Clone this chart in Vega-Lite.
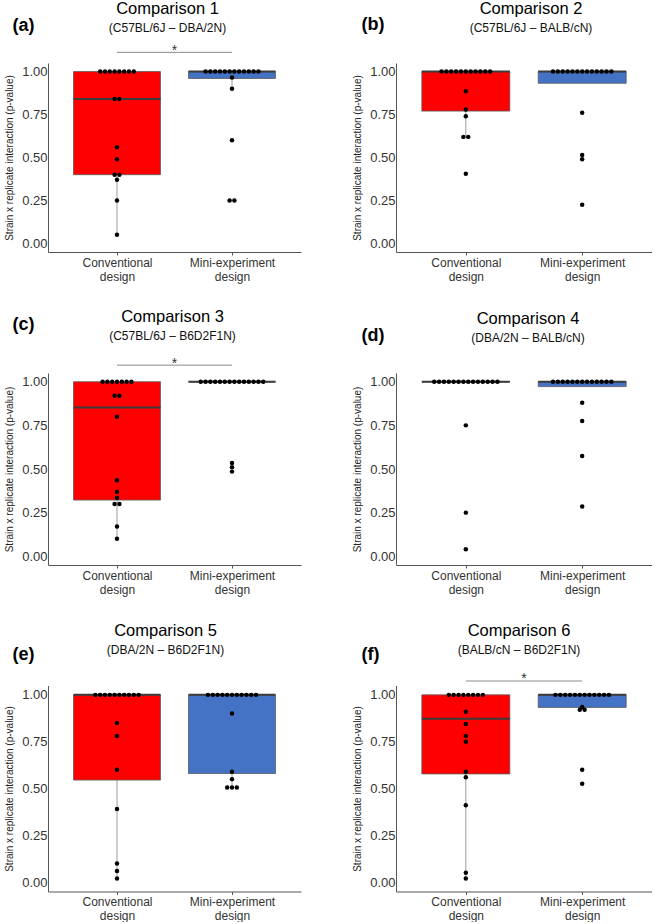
{
"$schema": "https://vega.github.io/schema/vega-lite/v6.json",
"background": "white",
"padding": {"left": 4, "top": 0, "right": 0, "bottom": 0},
"config": {
  "font": "Liberation Sans",
  "view": {"stroke": null},
  "axis": {"grid": false},
  "title": {"fontSize": 16.5, "fontWeight": "normal", "color": "#000", "subtitleFontSize": 12, "subtitleColor": "#111", "subtitlePadding": 5.5, "subtitleFont": "Liberation Sans"}
},
"datasets": {
"points": [
{"p":"a","d":"Conventional design","v":1},{"p":"a","d":"Conventional design","v":1},{"p":"a","d":"Conventional design","v":1},{"p":"a","d":"Conventional design","v":1},{"p":"a","d":"Conventional design","v":1},{"p":"a","d":"Conventional design","v":1},{"p":"a","d":"Conventional design","v":1},{"p":"a","d":"Conventional design","v":1},
{"p":"a","d":"Conventional design","v":0.84},{"p":"a","d":"Conventional design","v":0.84},{"p":"a","d":"Conventional design","v":0.56},{"p":"a","d":"Conventional design","v":0.49},{"p":"a","d":"Conventional design","v":0.40},{"p":"a","d":"Conventional design","v":0.40},{"p":"a","d":"Conventional design","v":0.37},{"p":"a","d":"Conventional design","v":0.25},{"p":"a","d":"Conventional design","v":0.05},
{"p":"a","d":"Mini-experiment design","v":1},{"p":"a","d":"Mini-experiment design","v":1},{"p":"a","d":"Mini-experiment design","v":1},{"p":"a","d":"Mini-experiment design","v":1},{"p":"a","d":"Mini-experiment design","v":1},{"p":"a","d":"Mini-experiment design","v":1},{"p":"a","d":"Mini-experiment design","v":1},{"p":"a","d":"Mini-experiment design","v":1},{"p":"a","d":"Mini-experiment design","v":1},{"p":"a","d":"Mini-experiment design","v":1},{"p":"a","d":"Mini-experiment design","v":1},{"p":"a","d":"Mini-experiment design","v":1},
{"p":"a","d":"Mini-experiment design","v":0.965},{"p":"a","d":"Mini-experiment design","v":0.90},{"p":"a","d":"Mini-experiment design","v":0.60},{"p":"a","d":"Mini-experiment design","v":0.25},{"p":"a","d":"Mini-experiment design","v":0.25},
{"p":"b","d":"Conventional design","v":1},{"p":"b","d":"Conventional design","v":1},{"p":"b","d":"Conventional design","v":1},{"p":"b","d":"Conventional design","v":1},{"p":"b","d":"Conventional design","v":1},{"p":"b","d":"Conventional design","v":1},{"p":"b","d":"Conventional design","v":1},{"p":"b","d":"Conventional design","v":1},{"p":"b","d":"Conventional design","v":1},{"p":"b","d":"Conventional design","v":1},{"p":"b","d":"Conventional design","v":1},
{"p":"b","d":"Conventional design","v":0.885},{"p":"b","d":"Conventional design","v":0.78},{"p":"b","d":"Conventional design","v":0.74},{"p":"b","d":"Conventional design","v":0.62},{"p":"b","d":"Conventional design","v":0.62},{"p":"b","d":"Conventional design","v":0.405},
{"p":"b","d":"Mini-experiment design","v":1},{"p":"b","d":"Mini-experiment design","v":1},{"p":"b","d":"Mini-experiment design","v":1},{"p":"b","d":"Mini-experiment design","v":1},{"p":"b","d":"Mini-experiment design","v":1},{"p":"b","d":"Mini-experiment design","v":1},{"p":"b","d":"Mini-experiment design","v":1},{"p":"b","d":"Mini-experiment design","v":1},{"p":"b","d":"Mini-experiment design","v":1},{"p":"b","d":"Mini-experiment design","v":1},{"p":"b","d":"Mini-experiment design","v":1},{"p":"b","d":"Mini-experiment design","v":1},{"p":"b","d":"Mini-experiment design","v":1},
{"p":"b","d":"Mini-experiment design","v":0.76},{"p":"b","d":"Mini-experiment design","v":0.515},{"p":"b","d":"Mini-experiment design","v":0.49},{"p":"b","d":"Mini-experiment design","v":0.225},
{"p":"c","d":"Conventional design","v":1},{"p":"c","d":"Conventional design","v":1},{"p":"c","d":"Conventional design","v":1},{"p":"c","d":"Conventional design","v":1},{"p":"c","d":"Conventional design","v":1},{"p":"c","d":"Conventional design","v":1},{"p":"c","d":"Conventional design","v":1},
{"p":"c","d":"Conventional design","v":0.92},{"p":"c","d":"Conventional design","v":0.92},{"p":"c","d":"Conventional design","v":0.80},{"p":"c","d":"Conventional design","v":0.435},{"p":"c","d":"Conventional design","v":0.37},{"p":"c","d":"Conventional design","v":0.335},{"p":"c","d":"Conventional design","v":0.30},{"p":"c","d":"Conventional design","v":0.30},{"p":"c","d":"Conventional design","v":0.17},{"p":"c","d":"Conventional design","v":0.10},
{"p":"c","d":"Mini-experiment design","v":1},{"p":"c","d":"Mini-experiment design","v":1},{"p":"c","d":"Mini-experiment design","v":1},{"p":"c","d":"Mini-experiment design","v":1},{"p":"c","d":"Mini-experiment design","v":1},{"p":"c","d":"Mini-experiment design","v":1},{"p":"c","d":"Mini-experiment design","v":1},{"p":"c","d":"Mini-experiment design","v":1},{"p":"c","d":"Mini-experiment design","v":1},{"p":"c","d":"Mini-experiment design","v":1},{"p":"c","d":"Mini-experiment design","v":1},{"p":"c","d":"Mini-experiment design","v":1},{"p":"c","d":"Mini-experiment design","v":1},{"p":"c","d":"Mini-experiment design","v":1},
{"p":"c","d":"Mini-experiment design","v":0.535},{"p":"c","d":"Mini-experiment design","v":0.51},{"p":"c","d":"Mini-experiment design","v":0.485},
{"p":"d","d":"Conventional design","v":1},{"p":"d","d":"Conventional design","v":1},{"p":"d","d":"Conventional design","v":1},{"p":"d","d":"Conventional design","v":1},{"p":"d","d":"Conventional design","v":1},{"p":"d","d":"Conventional design","v":1},{"p":"d","d":"Conventional design","v":1},{"p":"d","d":"Conventional design","v":1},{"p":"d","d":"Conventional design","v":1},{"p":"d","d":"Conventional design","v":1},{"p":"d","d":"Conventional design","v":1},{"p":"d","d":"Conventional design","v":1},{"p":"d","d":"Conventional design","v":1},{"p":"d","d":"Conventional design","v":1},
{"p":"d","d":"Conventional design","v":0.75},{"p":"d","d":"Conventional design","v":0.25},{"p":"d","d":"Conventional design","v":0.04},
{"p":"d","d":"Mini-experiment design","v":1},{"p":"d","d":"Mini-experiment design","v":1},{"p":"d","d":"Mini-experiment design","v":1},{"p":"d","d":"Mini-experiment design","v":1},{"p":"d","d":"Mini-experiment design","v":1},{"p":"d","d":"Mini-experiment design","v":1},{"p":"d","d":"Mini-experiment design","v":1},{"p":"d","d":"Mini-experiment design","v":1},{"p":"d","d":"Mini-experiment design","v":1},{"p":"d","d":"Mini-experiment design","v":1},{"p":"d","d":"Mini-experiment design","v":1},{"p":"d","d":"Mini-experiment design","v":1},{"p":"d","d":"Mini-experiment design","v":1},
{"p":"d","d":"Mini-experiment design","v":0.88},{"p":"d","d":"Mini-experiment design","v":0.775},{"p":"d","d":"Mini-experiment design","v":0.575},{"p":"d","d":"Mini-experiment design","v":0.285},
{"p":"e","d":"Conventional design","v":1},{"p":"e","d":"Conventional design","v":1},{"p":"e","d":"Conventional design","v":1},{"p":"e","d":"Conventional design","v":1},{"p":"e","d":"Conventional design","v":1},{"p":"e","d":"Conventional design","v":1},{"p":"e","d":"Conventional design","v":1},{"p":"e","d":"Conventional design","v":1},{"p":"e","d":"Conventional design","v":1},{"p":"e","d":"Conventional design","v":1},
{"p":"e","d":"Conventional design","v":0.85},{"p":"e","d":"Conventional design","v":0.78},{"p":"e","d":"Conventional design","v":0.60},{"p":"e","d":"Conventional design","v":0.39},{"p":"e","d":"Conventional design","v":0.10},{"p":"e","d":"Conventional design","v":0.06},{"p":"e","d":"Conventional design","v":0.02},
{"p":"e","d":"Mini-experiment design","v":1},{"p":"e","d":"Mini-experiment design","v":1},{"p":"e","d":"Mini-experiment design","v":1},{"p":"e","d":"Mini-experiment design","v":1},{"p":"e","d":"Mini-experiment design","v":1},{"p":"e","d":"Mini-experiment design","v":1},{"p":"e","d":"Mini-experiment design","v":1},{"p":"e","d":"Mini-experiment design","v":1},{"p":"e","d":"Mini-experiment design","v":1},{"p":"e","d":"Mini-experiment design","v":1},{"p":"e","d":"Mini-experiment design","v":1},
{"p":"e","d":"Mini-experiment design","v":0.90},{"p":"e","d":"Mini-experiment design","v":0.59},{"p":"e","d":"Mini-experiment design","v":0.55},{"p":"e","d":"Mini-experiment design","v":0.505},{"p":"e","d":"Mini-experiment design","v":0.505},{"p":"e","d":"Mini-experiment design","v":0.505},
{"p":"f","d":"Conventional design","v":1},{"p":"f","d":"Conventional design","v":1},{"p":"f","d":"Conventional design","v":1},{"p":"f","d":"Conventional design","v":1},{"p":"f","d":"Conventional design","v":1},{"p":"f","d":"Conventional design","v":1},{"p":"f","d":"Conventional design","v":1},{"p":"f","d":"Conventional design","v":1},
{"p":"f","d":"Conventional design","v":0.91},{"p":"f","d":"Conventional design","v":0.845},{"p":"f","d":"Conventional design","v":0.78},{"p":"f","d":"Conventional design","v":0.75},{"p":"f","d":"Conventional design","v":0.59},{"p":"f","d":"Conventional design","v":0.56},{"p":"f","d":"Conventional design","v":0.41},{"p":"f","d":"Conventional design","v":0.05},{"p":"f","d":"Conventional design","v":0.02},
{"p":"f","d":"Mini-experiment design","v":1},{"p":"f","d":"Mini-experiment design","v":1},{"p":"f","d":"Mini-experiment design","v":1},{"p":"f","d":"Mini-experiment design","v":1},{"p":"f","d":"Mini-experiment design","v":1},{"p":"f","d":"Mini-experiment design","v":1},{"p":"f","d":"Mini-experiment design","v":1},{"p":"f","d":"Mini-experiment design","v":1},{"p":"f","d":"Mini-experiment design","v":1},{"p":"f","d":"Mini-experiment design","v":1},{"p":"f","d":"Mini-experiment design","v":1},{"p":"f","d":"Mini-experiment design","v":1},
{"p":"f","d":"Mini-experiment design","v":0.935},{"p":"f","d":"Mini-experiment design","v":0.92},{"p":"f","d":"Mini-experiment design","v":0.92},{"p":"f","d":"Mini-experiment design","v":0.60},{"p":"f","d":"Mini-experiment design","v":0.525}
],
"boxes": [
{"p":"a","d":"Conventional design","lo":0.05,"q1":0.40,"med":0.84,"q3":1},
{"p":"a","d":"Mini-experiment design","lo":0.90,"q1":0.96,"med":1,"q3":1},
{"p":"b","d":"Conventional design","lo":0.62,"q1":0.77,"med":1,"q3":1},
{"p":"b","d":"Mini-experiment design","lo":0.932,"q1":0.932,"med":1,"q3":1},
{"p":"c","d":"Conventional design","lo":0.10,"q1":0.322,"med":0.852,"q3":1},
{"p":"c","d":"Mini-experiment design","lo":1,"q1":1,"med":1,"q3":1},
{"p":"d","d":"Conventional design","lo":1,"q1":1,"med":1,"q3":1},
{"p":"d","d":"Mini-experiment design","lo":0.972,"q1":0.972,"med":1,"q3":1},
{"p":"e","d":"Conventional design","lo":0.02,"q1":0.545,"med":1,"q3":1},
{"p":"e","d":"Mini-experiment design","lo":0.505,"q1":0.58,"med":1,"q3":1},
{"p":"f","d":"Conventional design","lo":0.02,"q1":0.578,"med":0.872,"q3":1},
{"p":"f","d":"Mini-experiment design","lo":0.92,"q1":0.933,"med":1,"q3":1}
],
"sig": [
{"p":"a","y":1.112,"ty":1.095},
{"p":"c","y":1.095,"ty":1.079},
{"p":"f","y":1.074,"ty":1.062}
]
},
"spacing": 27,
"vconcat": [
{"spacing": 51, "hconcat": [
{
 "width": 253, "height": 189,
 "title": {"text": "Comparison 1", "subtitle": "(C57BL/6J – DBA/2N)", "frame": "group", "anchor": "middle", "dx": -7, "offset": -18},
 "resolve": {"axis": {"x": "independent"}},
 "layer": [
  {"data": {"name": "boxes"}, "transform": [{"filter": "datum.p == 'a'"}, {"calculate": "datum.d == 'Conventional design' ? 1 : 2", "as": "i"}],
   "mark": {"type": "rule", "color": "#9e9e9e", "strokeWidth": 1},
   "encoding": {"x": {"field": "i", "type": "quantitative", "scale": {"domain": [0.4, 2.6], "nice": false, "zero": false}, "axis": {"orient": "bottom", "title": null, "values": [1, 2], "labelExpr": "datum.value == 1 ? ['Conventional', 'design'] : ['Mini-experiment', 'design']", "labelFontSize": 12, "labelColor": "#333", "labelLineHeight": 14, "tickSize": 3, "tickColor": "#555", "domainColor": "#555", "labelPadding": 2, "labelFlush": false, "labelOverlap": false}},
     "y": {"field": "lo", "type": "quantitative", "scale": {"domain": [-0.05, 1.05], "nice": false, "zero": false}, "axis": {"title": "Strain x replicate interaction (p-value)", "values": [0, 0.25, 0.5, 0.75, 1], "format": ".2f", "ticks": false, "labelPadding": 1, "labelFontSize": 13, "labelColor": "#333", "domainColor": "#555", "titleFontSize": 10, "titleFontWeight": "normal", "titleColor": "#222", "titlePadding": 4, "minExtent": 30, "maxExtent": 30}},
     "y2": {"field": "q1"}}},
  {"data": {"name": "boxes"}, "transform": [{"filter": "datum.p == 'a'"}, {"calculate": "(datum.d == 'Conventional design' ? 1 : 2) - 0.378", "as": "x1"}, {"calculate": "datum.x1 + 0.756", "as": "x2"}],
   "mark": {"type": "bar", "stroke": "#5a5a5a", "strokeWidth": 0.8},
   "encoding": {"x": {"field": "x1", "type": "quantitative", "axis": {"orient": "top", "title": "(a)", "values": [], "labels": false, "ticks": false, "domain": false, "titleX": -36, "titleY": -33, "titleAlign": "left", "titleBaseline": "alphabetic", "titleAngle": 0, "titleFontSize": 18, "titleFontWeight": "bold", "titleColor": "#000"}}, "x2": {"field": "x2"},
     "y": {"field": "q1", "type": "quantitative"}, "y2": {"field": "q3"},
     "fill": {"field": "d", "type": "nominal", "legend": null, "scale": {"domain": ["Conventional design", "Mini-experiment design"], "range": ["#FF0000", "#4472C4"]}}}},
  {"data": {"name": "boxes"}, "transform": [{"filter": "datum.p == 'a'"}, {"calculate": "(datum.d == 'Conventional design' ? 1 : 2) - 0.378", "as": "x1"}, {"calculate": "datum.x1 + 0.756", "as": "x2"}],
   "mark": {"type": "bar", "fillOpacity": 0, "stroke": "#3b3b3b", "strokeWidth": 2},
   "encoding": {"x": {"field": "x1", "type": "quantitative", "axis": null}, "x2": {"field": "x2"}, "y": {"field": "med", "type": "quantitative"}, "y2": {"field": "med"}}},
  {"data": {"name": "points"}, "transform": [{"filter": "datum.p == 'a'"}, {"window": [{"op": "row_number", "as": "k"}, {"op": "count", "as": "n"}], "groupby": ["d", "v"], "frame": [null, null]}, {"calculate": "(datum.d == 'Conventional design' ? 1 : 2) + 0.0418 * (datum.k - (datum.n + 1) / 2)", "as": "x"}],
   "mark": {"type": "circle", "size": 20, "opacity": 1, "color": "#000"},
   "encoding": {"x": {"field": "x", "type": "quantitative", "axis": null}, "y": {"field": "v", "type": "quantitative"}}},
  {"data": {"name": "sig"}, "transform": [{"filter": "datum.p == 'a'"}],
   "mark": {"type": "rule", "color": "#8a8a8a", "strokeWidth": 1},
   "encoding": {"x": {"datum": 1, "type": "quantitative", "axis": null}, "x2": {"datum": 2}, "y": {"field": "y", "type": "quantitative"}}},
  {"data": {"name": "sig"}, "transform": [{"filter": "datum.p == 'a'"}],
   "mark": {"type": "text", "text": "*", "fontSize": 14, "baseline": "alphabetic", "align": "center", "color": "#333"},
   "encoding": {"x": {"datum": 1.5, "type": "quantitative", "axis": null}, "y": {"field": "ty", "type": "quantitative"}}}
 ]
},
{
 "width": 256, "height": 189,
 "title": {"text": "Comparison 2", "subtitle": "(C57BL/6J – BALB/cN)", "frame": "group", "anchor": "middle", "dx": 7, "offset": -18.5},
 "resolve": {"axis": {"x": "independent"}},
 "layer": [
  {"data": {"name": "boxes"}, "transform": [{"filter": "datum.p == 'b'"}, {"calculate": "datum.d == 'Conventional design' ? 1 : 2", "as": "i"}],
   "mark": {"type": "rule", "color": "#9e9e9e", "strokeWidth": 1},
   "encoding": {"x": {"field": "i", "type": "quantitative", "scale": {"domain": [0.4, 2.6], "nice": false, "zero": false}, "axis": {"orient": "bottom", "title": null, "values": [1, 2], "labelExpr": "datum.value == 1 ? ['Conventional', 'design'] : ['Mini-experiment', 'design']", "labelFontSize": 12, "labelColor": "#333", "labelLineHeight": 14, "tickSize": 3, "tickColor": "#555", "domainColor": "#555", "labelPadding": 2, "labelFlush": false, "labelOverlap": false}},
     "y": {"field": "lo", "type": "quantitative", "scale": {"domain": [-0.05, 1.05], "nice": false, "zero": false}, "axis": {"title": "Strain x replicate interaction (p-value)", "values": [0, 0.25, 0.5, 0.75, 1], "format": ".2f", "ticks": false, "labelPadding": 1, "labelFontSize": 13, "labelColor": "#333", "domainColor": "#555", "titleFontSize": 10, "titleFontWeight": "normal", "titleColor": "#222", "titlePadding": 4, "minExtent": 30, "maxExtent": 30}},
     "y2": {"field": "q1"}}},
  {"data": {"name": "boxes"}, "transform": [{"filter": "datum.p == 'b'"}, {"calculate": "(datum.d == 'Conventional design' ? 1 : 2) - 0.378", "as": "x1"}, {"calculate": "datum.x1 + 0.756", "as": "x2"}],
   "mark": {"type": "bar", "stroke": "#5a5a5a", "strokeWidth": 0.8},
   "encoding": {"x": {"field": "x1", "type": "quantitative", "axis": {"orient": "top", "title": "(b)", "values": [], "labels": false, "ticks": false, "domain": false, "titleX": -35, "titleY": -34, "titleAlign": "left", "titleBaseline": "alphabetic", "titleAngle": 0, "titleFontSize": 18, "titleFontWeight": "bold", "titleColor": "#000"}}, "x2": {"field": "x2"},
     "y": {"field": "q1", "type": "quantitative"}, "y2": {"field": "q3"},
     "fill": {"field": "d", "type": "nominal", "legend": null, "scale": {"domain": ["Conventional design", "Mini-experiment design"], "range": ["#FF0000", "#4472C4"]}}}},
  {"data": {"name": "boxes"}, "transform": [{"filter": "datum.p == 'b'"}, {"calculate": "(datum.d == 'Conventional design' ? 1 : 2) - 0.378", "as": "x1"}, {"calculate": "datum.x1 + 0.756", "as": "x2"}],
   "mark": {"type": "bar", "fillOpacity": 0, "stroke": "#3b3b3b", "strokeWidth": 2},
   "encoding": {"x": {"field": "x1", "type": "quantitative", "axis": null}, "x2": {"field": "x2"}, "y": {"field": "med", "type": "quantitative"}, "y2": {"field": "med"}}},
  {"data": {"name": "points"}, "transform": [{"filter": "datum.p == 'b'"}, {"window": [{"op": "row_number", "as": "k"}, {"op": "count", "as": "n"}], "groupby": ["d", "v"], "frame": [null, null]}, {"calculate": "(datum.d == 'Conventional design' ? 1 : 2) + 0.0418 * (datum.k - (datum.n + 1) / 2)", "as": "x"}],
   "mark": {"type": "circle", "size": 20, "opacity": 1, "color": "#000"},
   "encoding": {"x": {"field": "x", "type": "quantitative", "axis": null}, "y": {"field": "v", "type": "quantitative"}}}
 ]
}
]},
{"spacing": 27.5, "vconcat": [
{"spacing": 51, "hconcat": [
{
 "width": 253, "height": 192,
 "title": {"text": "Comparison 3", "subtitle": "(C57BL/6J – B6D2F1N)", "frame": "group", "anchor": "middle", "dx": -2, "offset": -27},
 "resolve": {"axis": {"x": "independent"}},
 "layer": [
  {"data": {"name": "boxes"}, "transform": [{"filter": "datum.p == 'c'"}, {"calculate": "datum.d == 'Conventional design' ? 1 : 2", "as": "i"}],
   "mark": {"type": "rule", "color": "#9e9e9e", "strokeWidth": 1},
   "encoding": {"x": {"field": "i", "type": "quantitative", "scale": {"domain": [0.4, 2.6], "nice": false, "zero": false}, "axis": {"orient": "bottom", "title": null, "values": [1, 2], "labelExpr": "datum.value == 1 ? ['Conventional', 'design'] : ['Mini-experiment', 'design']", "labelFontSize": 12, "labelColor": "#333", "labelLineHeight": 14, "tickSize": 3, "tickColor": "#555", "domainColor": "#555", "labelPadding": 2, "labelFlush": false, "labelOverlap": false}},
     "y": {"field": "lo", "type": "quantitative", "scale": {"domain": [-0.05, 1.05], "nice": false, "zero": false}, "axis": {"title": "Strain x replicate interaction (p-value)", "values": [0, 0.25, 0.5, 0.75, 1], "format": ".2f", "ticks": false, "labelPadding": 1, "labelFontSize": 13, "labelColor": "#333", "domainColor": "#555", "titleFontSize": 10, "titleFontWeight": "normal", "titleColor": "#222", "titlePadding": 4, "minExtent": 30, "maxExtent": 30}},
     "y2": {"field": "q1"}}},
  {"data": {"name": "boxes"}, "transform": [{"filter": "datum.p == 'c'"}, {"calculate": "(datum.d == 'Conventional design' ? 1 : 2) - 0.378", "as": "x1"}, {"calculate": "datum.x1 + 0.756", "as": "x2"}],
   "mark": {"type": "bar", "stroke": "#5a5a5a", "strokeWidth": 0.8},
   "encoding": {"x": {"field": "x1", "type": "quantitative", "axis": {"orient": "top", "title": "(c)", "values": [], "labels": false, "ticks": false, "domain": false, "titleX": -36, "titleY": -44, "titleAlign": "left", "titleBaseline": "alphabetic", "titleAngle": 0, "titleFontSize": 18, "titleFontWeight": "bold", "titleColor": "#000"}}, "x2": {"field": "x2"},
     "y": {"field": "q1", "type": "quantitative"}, "y2": {"field": "q3"},
     "fill": {"field": "d", "type": "nominal", "legend": null, "scale": {"domain": ["Conventional design", "Mini-experiment design"], "range": ["#FF0000", "#4472C4"]}}}},
  {"data": {"name": "boxes"}, "transform": [{"filter": "datum.p == 'c'"}, {"calculate": "(datum.d == 'Conventional design' ? 1 : 2) - 0.378", "as": "x1"}, {"calculate": "datum.x1 + 0.756", "as": "x2"}],
   "mark": {"type": "bar", "fillOpacity": 0, "stroke": "#3b3b3b", "strokeWidth": 2},
   "encoding": {"x": {"field": "x1", "type": "quantitative", "axis": null}, "x2": {"field": "x2"}, "y": {"field": "med", "type": "quantitative"}, "y2": {"field": "med"}}},
  {"data": {"name": "points"}, "transform": [{"filter": "datum.p == 'c'"}, {"window": [{"op": "row_number", "as": "k"}, {"op": "count", "as": "n"}], "groupby": ["d", "v"], "frame": [null, null]}, {"calculate": "(datum.d == 'Conventional design' ? 1 : 2) + 0.0418 * (datum.k - (datum.n + 1) / 2)", "as": "x"}],
   "mark": {"type": "circle", "size": 20, "opacity": 1, "color": "#000"},
   "encoding": {"x": {"field": "x", "type": "quantitative", "axis": null}, "y": {"field": "v", "type": "quantitative"}}},
  {"data": {"name": "sig"}, "transform": [{"filter": "datum.p == 'c'"}],
   "mark": {"type": "rule", "color": "#8a8a8a", "strokeWidth": 1},
   "encoding": {"x": {"datum": 1, "type": "quantitative", "axis": null}, "x2": {"datum": 2}, "y": {"field": "y", "type": "quantitative"}}},
  {"data": {"name": "sig"}, "transform": [{"filter": "datum.p == 'c'"}],
   "mark": {"type": "text", "text": "*", "fontSize": 14, "baseline": "alphabetic", "align": "center", "color": "#333"},
   "encoding": {"x": {"datum": 1.5, "type": "quantitative", "axis": null}, "y": {"field": "ty", "type": "quantitative"}}}
 ]
},
{
 "width": 256, "height": 192,
 "title": {"text": "Comparison 4", "subtitle": "(DBA/2N – BALB/cN)", "frame": "group", "anchor": "middle", "dx": 4, "offset": -18.3},
 "resolve": {"axis": {"x": "independent"}},
 "layer": [
  {"data": {"name": "boxes"}, "transform": [{"filter": "datum.p == 'd'"}, {"calculate": "datum.d == 'Conventional design' ? 1 : 2", "as": "i"}],
   "mark": {"type": "rule", "color": "#9e9e9e", "strokeWidth": 1},
   "encoding": {"x": {"field": "i", "type": "quantitative", "scale": {"domain": [0.4, 2.6], "nice": false, "zero": false}, "axis": {"orient": "bottom", "title": null, "values": [1, 2], "labelExpr": "datum.value == 1 ? ['Conventional', 'design'] : ['Mini-experiment', 'design']", "labelFontSize": 12, "labelColor": "#333", "labelLineHeight": 14, "tickSize": 3, "tickColor": "#555", "domainColor": "#555", "labelPadding": 2, "labelFlush": false, "labelOverlap": false}},
     "y": {"field": "lo", "type": "quantitative", "scale": {"domain": [-0.05, 1.05], "nice": false, "zero": false}, "axis": {"title": "Strain x replicate interaction (p-value)", "values": [0, 0.25, 0.5, 0.75, 1], "format": ".2f", "ticks": false, "labelPadding": 1, "labelFontSize": 13, "labelColor": "#333", "domainColor": "#555", "titleFontSize": 10, "titleFontWeight": "normal", "titleColor": "#222", "titlePadding": 4, "minExtent": 30, "maxExtent": 30}},
     "y2": {"field": "q1"}}},
  {"data": {"name": "boxes"}, "transform": [{"filter": "datum.p == 'd'"}, {"calculate": "(datum.d == 'Conventional design' ? 1 : 2) - 0.378", "as": "x1"}, {"calculate": "datum.x1 + 0.756", "as": "x2"}],
   "mark": {"type": "bar", "stroke": "#5a5a5a", "strokeWidth": 0.8},
   "encoding": {"x": {"field": "x1", "type": "quantitative", "axis": {"orient": "top", "title": "(d)", "values": [], "labels": false, "ticks": false, "domain": false, "titleX": -35, "titleY": -33, "titleAlign": "left", "titleBaseline": "alphabetic", "titleAngle": 0, "titleFontSize": 18, "titleFontWeight": "bold", "titleColor": "#000"}}, "x2": {"field": "x2"},
     "y": {"field": "q1", "type": "quantitative"}, "y2": {"field": "q3"},
     "fill": {"field": "d", "type": "nominal", "legend": null, "scale": {"domain": ["Conventional design", "Mini-experiment design"], "range": ["#FF0000", "#4472C4"]}}}},
  {"data": {"name": "boxes"}, "transform": [{"filter": "datum.p == 'd'"}, {"calculate": "(datum.d == 'Conventional design' ? 1 : 2) - 0.378", "as": "x1"}, {"calculate": "datum.x1 + 0.756", "as": "x2"}],
   "mark": {"type": "bar", "fillOpacity": 0, "stroke": "#3b3b3b", "strokeWidth": 2},
   "encoding": {"x": {"field": "x1", "type": "quantitative", "axis": null}, "x2": {"field": "x2"}, "y": {"field": "med", "type": "quantitative"}, "y2": {"field": "med"}}},
  {"data": {"name": "points"}, "transform": [{"filter": "datum.p == 'd'"}, {"window": [{"op": "row_number", "as": "k"}, {"op": "count", "as": "n"}], "groupby": ["d", "v"], "frame": [null, null]}, {"calculate": "(datum.d == 'Conventional design' ? 1 : 2) + 0.0418 * (datum.k - (datum.n + 1) / 2)", "as": "x"}],
   "mark": {"type": "circle", "size": 20, "opacity": 1, "color": "#000"},
   "encoding": {"x": {"field": "x", "type": "quantitative", "axis": null}, "y": {"field": "v", "type": "quantitative"}}}
 ]
}
]},
{"spacing": 51, "hconcat": [
{
 "width": 253, "height": 206,
 "title": {"text": "Comparison 5", "subtitle": "(DBA/2N – B6D2F1N)", "frame": "group", "anchor": "middle", "dx": -9, "offset": -10.6},
 "resolve": {"axis": {"x": "independent"}},
 "layer": [
  {"data": {"name": "boxes"}, "transform": [{"filter": "datum.p == 'e'"}, {"calculate": "datum.d == 'Conventional design' ? 1 : 2", "as": "i"}],
   "mark": {"type": "rule", "color": "#9e9e9e", "strokeWidth": 1},
   "encoding": {"x": {"field": "i", "type": "quantitative", "scale": {"domain": [0.4, 2.6], "nice": false, "zero": false}, "axis": {"orient": "bottom", "title": null, "values": [1, 2], "labelExpr": "datum.value == 1 ? ['Conventional', 'design'] : ['Mini-experiment', 'design']", "labelFontSize": 12, "labelColor": "#333", "labelLineHeight": 14, "tickSize": 3, "tickColor": "#555", "domainColor": "#555", "labelPadding": 2, "labelFlush": false, "labelOverlap": false}},
     "y": {"field": "lo", "type": "quantitative", "scale": {"domain": [-0.05, 1.05], "nice": false, "zero": false}, "axis": {"title": "Strain x replicate interaction (p-value)", "values": [0, 0.25, 0.5, 0.75, 1], "format": ".2f", "ticks": false, "labelPadding": 1, "labelFontSize": 13, "labelColor": "#333", "domainColor": "#555", "titleFontSize": 10, "titleFontWeight": "normal", "titleColor": "#222", "titlePadding": 4, "minExtent": 30, "maxExtent": 30}},
     "y2": {"field": "q1"}}},
  {"data": {"name": "boxes"}, "transform": [{"filter": "datum.p == 'e'"}, {"calculate": "(datum.d == 'Conventional design' ? 1 : 2) - 0.378", "as": "x1"}, {"calculate": "datum.x1 + 0.756", "as": "x2"}],
   "mark": {"type": "bar", "stroke": "#5a5a5a", "strokeWidth": 0.8},
   "encoding": {"x": {"field": "x1", "type": "quantitative", "axis": {"orient": "top", "title": "(e)", "values": [], "labels": false, "ticks": false, "domain": false, "titleX": -36, "titleY": -26, "titleAlign": "left", "titleBaseline": "alphabetic", "titleAngle": 0, "titleFontSize": 18, "titleFontWeight": "bold", "titleColor": "#000"}}, "x2": {"field": "x2"},
     "y": {"field": "q1", "type": "quantitative"}, "y2": {"field": "q3"},
     "fill": {"field": "d", "type": "nominal", "legend": null, "scale": {"domain": ["Conventional design", "Mini-experiment design"], "range": ["#FF0000", "#4472C4"]}}}},
  {"data": {"name": "boxes"}, "transform": [{"filter": "datum.p == 'e'"}, {"calculate": "(datum.d == 'Conventional design' ? 1 : 2) - 0.378", "as": "x1"}, {"calculate": "datum.x1 + 0.756", "as": "x2"}],
   "mark": {"type": "bar", "fillOpacity": 0, "stroke": "#3b3b3b", "strokeWidth": 2},
   "encoding": {"x": {"field": "x1", "type": "quantitative", "axis": null}, "x2": {"field": "x2"}, "y": {"field": "med", "type": "quantitative"}, "y2": {"field": "med"}}},
  {"data": {"name": "points"}, "transform": [{"filter": "datum.p == 'e'"}, {"window": [{"op": "row_number", "as": "k"}, {"op": "count", "as": "n"}], "groupby": ["d", "v"], "frame": [null, null]}, {"calculate": "(datum.d == 'Conventional design' ? 1 : 2) + 0.0418 * (datum.k - (datum.n + 1) / 2)", "as": "x"}],
   "mark": {"type": "circle", "size": 20, "opacity": 1, "color": "#000"},
   "encoding": {"x": {"field": "x", "type": "quantitative", "axis": null}, "y": {"field": "v", "type": "quantitative"}}}
 ]
},
{
 "width": 256, "height": 206,
 "title": {"text": "Comparison 6", "subtitle": "(BALB/cN – B6D2F1N)", "frame": "group", "anchor": "middle", "dx": -5, "offset": -10.5},
 "resolve": {"axis": {"x": "independent"}},
 "layer": [
  {"data": {"name": "boxes"}, "transform": [{"filter": "datum.p == 'f'"}, {"calculate": "datum.d == 'Conventional design' ? 1 : 2", "as": "i"}],
   "mark": {"type": "rule", "color": "#9e9e9e", "strokeWidth": 1},
   "encoding": {"x": {"field": "i", "type": "quantitative", "scale": {"domain": [0.4, 2.6], "nice": false, "zero": false}, "axis": {"orient": "bottom", "title": null, "values": [1, 2], "labelExpr": "datum.value == 1 ? ['Conventional', 'design'] : ['Mini-experiment', 'design']", "labelFontSize": 12, "labelColor": "#333", "labelLineHeight": 14, "tickSize": 3, "tickColor": "#555", "domainColor": "#555", "labelPadding": 2, "labelFlush": false, "labelOverlap": false}},
     "y": {"field": "lo", "type": "quantitative", "scale": {"domain": [-0.05, 1.05], "nice": false, "zero": false}, "axis": {"title": "Strain x replicate interaction (p-value)", "values": [0, 0.25, 0.5, 0.75, 1], "format": ".2f", "ticks": false, "labelPadding": 1, "labelFontSize": 13, "labelColor": "#333", "domainColor": "#555", "titleFontSize": 10, "titleFontWeight": "normal", "titleColor": "#222", "titlePadding": 4, "minExtent": 30, "maxExtent": 30}},
     "y2": {"field": "q1"}}},
  {"data": {"name": "boxes"}, "transform": [{"filter": "datum.p == 'f'"}, {"calculate": "(datum.d == 'Conventional design' ? 1 : 2) - 0.378", "as": "x1"}, {"calculate": "datum.x1 + 0.756", "as": "x2"}],
   "mark": {"type": "bar", "stroke": "#5a5a5a", "strokeWidth": 0.8},
   "encoding": {"x": {"field": "x1", "type": "quantitative", "axis": {"orient": "top", "title": "(f)", "values": [], "labels": false, "ticks": false, "domain": false, "titleX": -35, "titleY": -26, "titleAlign": "left", "titleBaseline": "alphabetic", "titleAngle": 0, "titleFontSize": 18, "titleFontWeight": "bold", "titleColor": "#000"}}, "x2": {"field": "x2"},
     "y": {"field": "q1", "type": "quantitative"}, "y2": {"field": "q3"},
     "fill": {"field": "d", "type": "nominal", "legend": null, "scale": {"domain": ["Conventional design", "Mini-experiment design"], "range": ["#FF0000", "#4472C4"]}}}},
  {"data": {"name": "boxes"}, "transform": [{"filter": "datum.p == 'f'"}, {"calculate": "(datum.d == 'Conventional design' ? 1 : 2) - 0.378", "as": "x1"}, {"calculate": "datum.x1 + 0.756", "as": "x2"}],
   "mark": {"type": "bar", "fillOpacity": 0, "stroke": "#3b3b3b", "strokeWidth": 2},
   "encoding": {"x": {"field": "x1", "type": "quantitative", "axis": null}, "x2": {"field": "x2"}, "y": {"field": "med", "type": "quantitative"}, "y2": {"field": "med"}}},
  {"data": {"name": "points"}, "transform": [{"filter": "datum.p == 'f'"}, {"window": [{"op": "row_number", "as": "k"}, {"op": "count", "as": "n"}], "groupby": ["d", "v"], "frame": [null, null]}, {"calculate": "(datum.d == 'Conventional design' ? 1 : 2) + 0.0418 * (datum.k - (datum.n + 1) / 2)", "as": "x"}],
   "mark": {"type": "circle", "size": 20, "opacity": 1, "color": "#000"},
   "encoding": {"x": {"field": "x", "type": "quantitative", "axis": null}, "y": {"field": "v", "type": "quantitative"}}},
  {"data": {"name": "sig"}, "transform": [{"filter": "datum.p == 'f'"}],
   "mark": {"type": "rule", "color": "#8a8a8a", "strokeWidth": 1},
   "encoding": {"x": {"datum": 1, "type": "quantitative", "axis": null}, "x2": {"datum": 2}, "y": {"field": "y", "type": "quantitative"}}},
  {"data": {"name": "sig"}, "transform": [{"filter": "datum.p == 'f'"}],
   "mark": {"type": "text", "text": "*", "fontSize": 14, "baseline": "alphabetic", "align": "center", "color": "#333"},
   "encoding": {"x": {"datum": 1.5, "type": "quantitative", "axis": null}, "y": {"field": "ty", "type": "quantitative"}}}
 ]
}
]}
]}
]
}
